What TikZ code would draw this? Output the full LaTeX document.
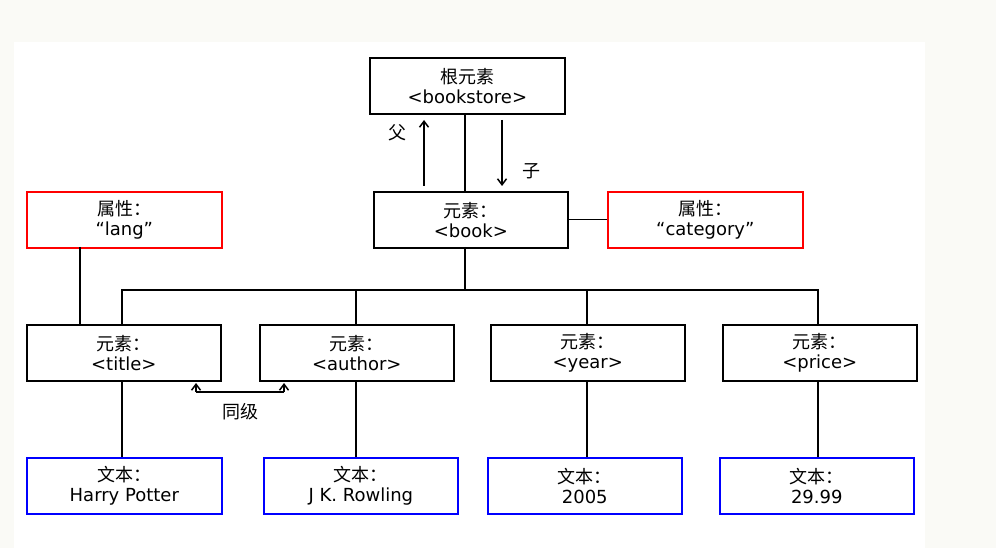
\documentclass[tikz,border=0pt]{standalone}
\usepackage{fontspec}
\setmainfont{DejaVu Sans}
\newfontfamily\cjk{Noto Sans CJK SC}
\usetikzlibrary{arrows.meta}
\definecolor{bg}{RGB}{250,250,246}
\begin{document}
\begin{tikzpicture}[x=1pt,y=-1pt,
  bx/.style={draw,line width=1.6pt,minimum width=#1,minimum height=56pt,inner sep=0pt,align=center,font=\fontsize{18}{20}\selectfont,anchor=north west},
  bx/.default=194pt,
  ln/.style={line width=1.5pt},
  ar/.style={line width=1.5pt,-{Straight Barb[length=6pt,width=9pt]}},
  lb/.style={font=\cjk\fontsize{18}{20}\selectfont}]
\fill[bg] (0,0) rectangle (996,548);
\fill[white] (14,42) rectangle (925,548);
\useasboundingbox (0,0) rectangle (996,548);
\node[bx=195pt] (root) at (369,57) {{\cjk 根元素}\\<bookstore>};
\node[bx] (book) at (373,191) {{\cjk 元素：}\\<book>};
\node[bx=195pt,draw=red] (lang) at (26,191) {{\cjk 属性：}\\“lang”};
\node[bx=195pt,draw=red] (cat) at (607,191) {{\cjk 属性：}\\“category”};
\node[bx] (title) at (26,324) {{\cjk 元素：}\\<title>};
\node[bx] (author) at (259,324) {{\cjk 元素：}\\<author>};
\node[bx] (year) at (490,324) {{\cjk 元素：}\\<year>};
\node[bx] (price) at (722,324) {{\cjk 元素：}\\<price>};
\node[bx=195pt,draw=blue] (t1) at (26,457) {{\cjk 文本：}\\Harry Potter};
\node[bx,draw=blue] (t2) at (263,457) {{\cjk 文本：}\\J K. Rowling};
\node[bx,draw=blue] (t3) at (487,457) {{\cjk 文本：}\\2005};
\node[bx,draw=blue] (t4) at (719,457) {{\cjk 文本：}\\29.99};
\coordinate (rb) at (465,114); \coordinate (bt) at (465,191);
\draw[ln] (rb) -- (bt);
\coordinate (p1) at (424,186); \coordinate (p2) at (424,120);
\draw[ar] (p1) -- (p2);
\coordinate (c1) at (502,120); \coordinate (c2) at (502,186);
\draw[ar] (c1) -- (c2);
\node[lb] (fu) at (397,133) {父};
\node[lb] (zi) at (531,171) {子};
\coordinate (bb) at (465,247); \coordinate (bus) at (465,290);
\draw[ln] (bb) -- (bus);
\draw[ln] (122,324) -- (122,290) -- (818,290) -- (818,324);
\draw[ln] (356,290) -- (356,324);
\draw[ln] (587,290) -- (587,324);
\draw[ln] (80,247) -- (80,324);
\coordinate (be) at (567,219.5); \coordinate (ce) at (607,219.5);
\draw[ln] (be) -- (ce);
\draw[ln] (122,380) -- (122,457);
\draw[ln] (356,380) -- (356,457);
\draw[ln] (587,380) -- (587,457);
\draw[ln] (818,380) -- (818,457);
\coordinate (s1) at (196,383); \coordinate (s2) at (284,383);
\draw[ln] (196,392) -- (284,392);
\draw[ar] (196,392) -- (s1);
\draw[ar] (284,392) -- (s2);
\node[lb] (sib) at (240,412) {同级};
\end{tikzpicture}
\end{document}
